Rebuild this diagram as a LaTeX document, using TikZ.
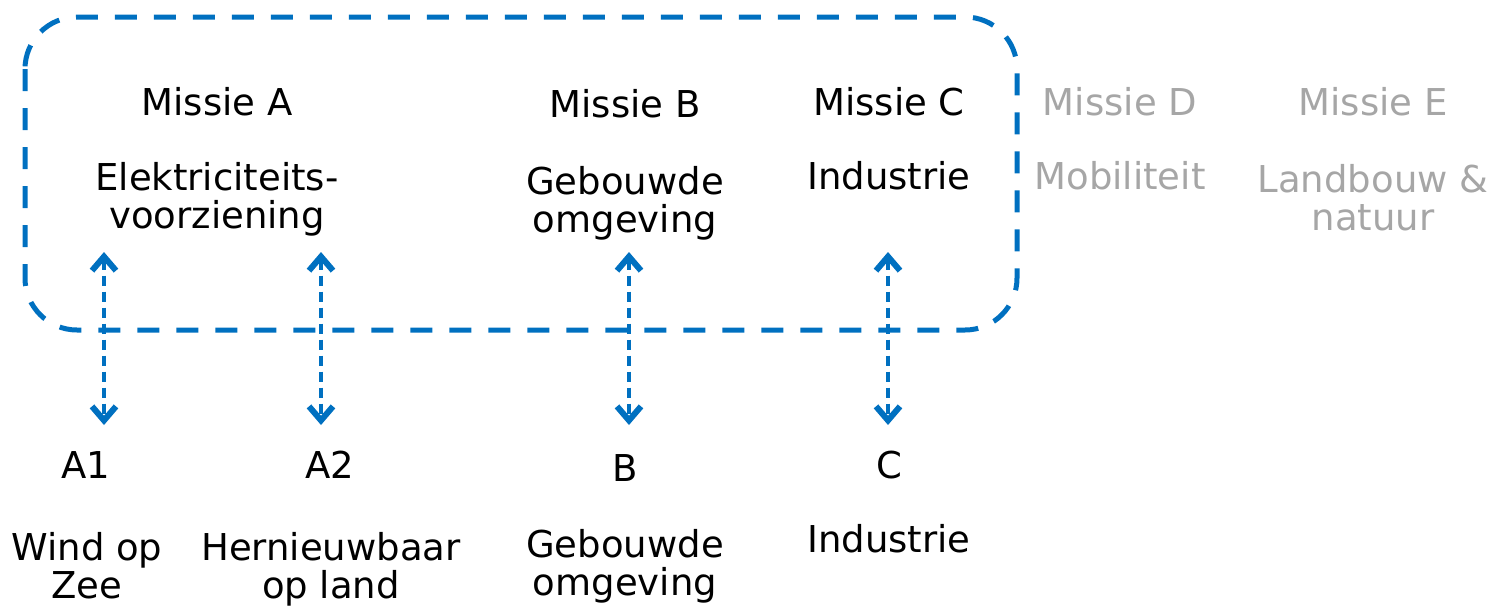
\documentclass[tikz,border=0pt]{standalone}
\usepackage{fontspec}
\setmainfont{DejaVu Sans}
\usetikzlibrary{arrows.meta}
\definecolor{mblue}{HTML}{0070C0}
\definecolor{mgray}{HTML}{A6A6A6}
\begin{document}
\begin{tikzpicture}[x=0.5pt,y=-0.5pt,
  lbl/.style={inner sep=0pt,anchor=base,align=center,font=\fontsize{18.5pt}{19pt}\selectfont,text=black},
  dim/.style={lbl,text=mgray},
  link/.style={draw=mblue,line width=2pt,dash pattern=on 5pt off 3pt,
    {Straight Barb[length=7pt,width=12pt,line width=3pt]}-{Straight Barb[length=7pt,width=12pt,line width=3pt]}},
  frame/.style={draw=mblue,line width=2.5pt,dash pattern=on 11pt off 8.5pt,rounded corners=26pt}]
\useasboundingbox (0,0) rectangle (1499,606);
\draw[frame] (25,17) rectangle (1017,330);
% top labels (multi-line nodes are placed at the baseline of their last line)
\node[lbl] (mA) at (217,115) {Missie A};
\node[lbl] (tA) at (217,228) {Elektriciteits-\\voorziening};
\node[lbl] (mB) at (625,117) {Missie B};
\node[lbl] (tB) at (625,232) {Gebouwde\\omgeving};
\node[lbl] (mC) at (889,115) {Missie C};
\node[lbl] (tC) at (889,189) {Industrie};
\node[dim] (mD) at (1120,115) {Missie D};
\node[dim] (tD) at (1120,189) {Mobiliteit};
\node[dim] (mE) at (1373,115) {Missie E};
\node[dim] (tE) at (1373,230) {Landbouw \&\\natuur};
% bottom labels
\node[lbl] (bA1) at (86,478) {A1};
\node[lbl] (bA2) at (330,478) {A2};
\node[lbl] (bB) at (625,481) {B};
\node[lbl] (bC) at (889,478) {C};
\node[lbl] (sA1) at (87,598) {Wind op\\Zee};
\node[lbl] (sA2) at (331,598) {Hernieuwbaar\\op land};
\node[lbl] (sB) at (625,595) {Gebouwde\\omgeving};
\node[lbl] (sC) at (889,552) {Industrie};
% connector ends
\coordinate (a1t) at (104,252); \coordinate (a1b) at (104,425);
\coordinate (a2t) at (321,252); \coordinate (a2b) at (321,425);
\coordinate (bt) at (629,252);  \coordinate (bb) at (629,425);
\coordinate (ct) at (888,252);  \coordinate (cb) at (888,425);
\draw[link] (a1t) -- (a1b);
\draw[link] (a2t) -- (a2b);
\draw[link] (bt) -- (bb);
\draw[link] (ct) -- (cb);
\end{tikzpicture}
\end{document}
